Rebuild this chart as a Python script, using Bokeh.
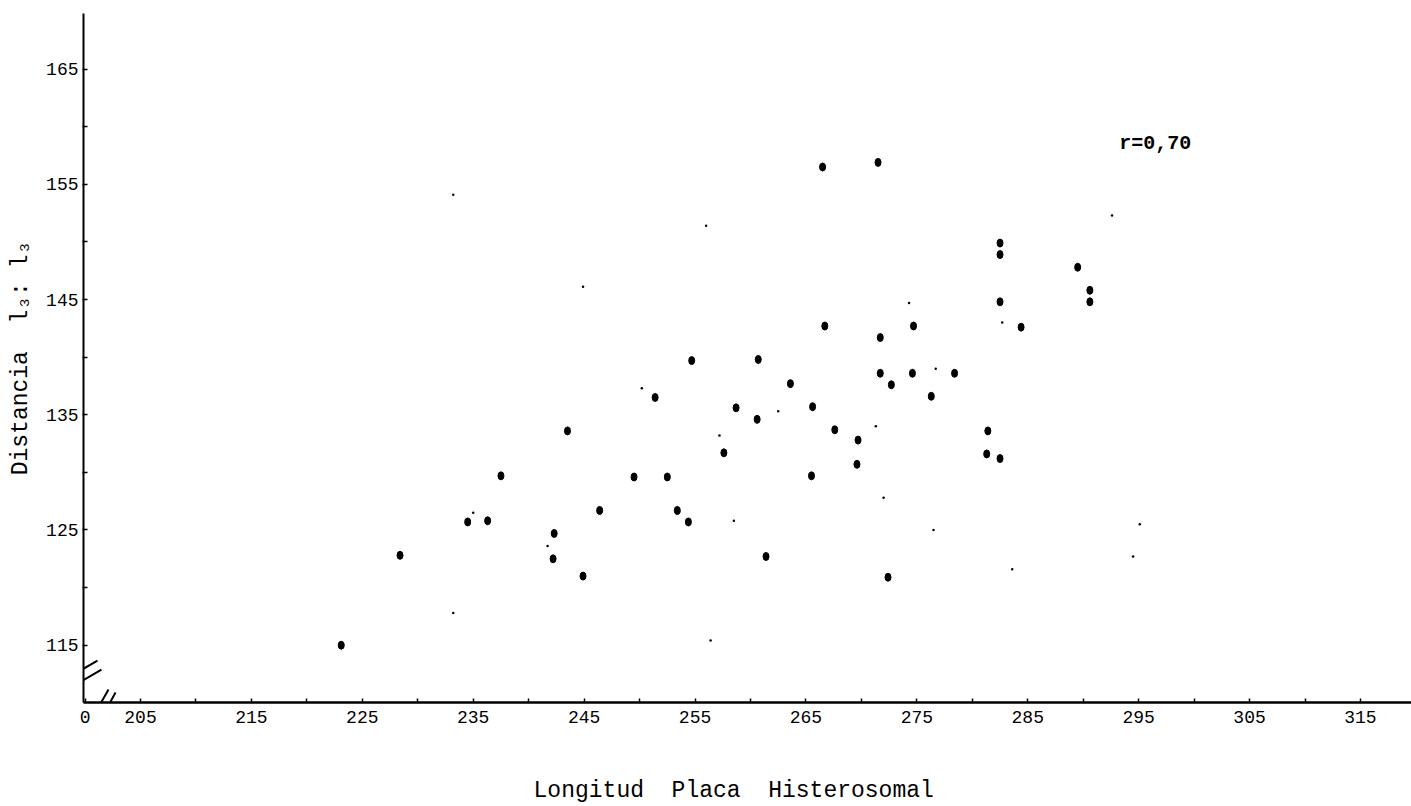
from bokeh.plotting import figure
from bokeh.models import FixedTicker, Label, ColumnDataSource
from bokeh.embed import file_html
from bokeh.resources import INLINE

# ---- data ----
longitud = [223.1, 228.4, 234.5, 236.3, 237.5, 242.3, 242.2, 243.5, 244.9, 246.4,
            249.5, 251.4, 252.5, 253.4, 254.4, 254.7, 257.6, 258.7, 260.6, 260.7,
            261.4, 263.6, 265.5, 265.6, 266.5, 266.7, 267.6, 269.6, 269.7, 271.5,
            271.7, 271.7, 272.4, 272.7, 274.6, 274.7, 276.3, 278.4, 281.4, 281.3,
            282.5, 282.5, 282.5, 282.5, 284.4, 289.5, 290.6, 290.6]
distancia = [115.0, 122.8, 125.7, 125.8, 129.7, 124.7, 122.5, 133.6, 121.0, 126.7,
             129.6, 136.5, 129.6, 126.7, 125.7, 139.7, 131.7, 135.6, 134.6, 139.8,
             122.7, 137.7, 129.7, 135.7, 156.5, 142.7, 133.7, 130.7, 132.8, 156.9,
             141.7, 138.6, 120.9, 137.6, 138.6, 142.7, 136.6, 138.6, 133.6, 131.6,
             131.2, 149.9, 148.9, 144.8, 142.6, 147.8, 145.8, 144.8]

# faint specks visible on the scanned page
speck_x = [241.7, 235.0, 258.5, 262.5, 257.2, 271.3, 282.7, 276.7, 274.3, 250.2,
           244.9, 233.2, 256.0, 233.2, 256.4, 276.5, 283.6, 295.1, 294.5, 272.0, 292.6]
speck_y = [123.6, 126.5, 125.8, 135.3, 133.2, 134.0, 143.0, 139.0, 144.7, 137.3,
           146.1, 154.1, 151.4, 117.8, 115.4, 125.0, 121.6, 125.5, 122.7, 127.8, 152.3]

x_major = [200, 205, 215, 225, 235, 245, 255, 265, 275, 285, 295, 305, 315]
x_minor = [210, 220, 230, 240, 250, 260, 270, 280, 290, 300, 310]
y_major = [115, 125, 135, 145, 155, 165]
y_minor = [120, 130, 140, 150, 160]

NB = "\u00a0"
x_title = "Longitud" + NB * 2 + "Placa" + NB * 2 + "Histerosomal" + NB * 2
y_title = "Distancia" + NB * 2 + "l\u2083:" + NB + "l\u2083"
r_text = "r=0,70"
r_pos = (296.5, 158.5)

X0, X1 = 199.86, 319.6
Y0, Y1 = 110.03, 169.82

FONT = "Liberation Mono"

p = figure(width=1411, height=806, x_range=(X0, X1), y_range=(Y0, Y1),
           output_backend="svg", toolbar_location=None,
           min_border_left=83, min_border_right=0, min_border_top=13,
           min_border_bottom=103)
p.grid.visible = False
p.outline_line_color = None
p.background_fill_color = "white"
p.border_fill_color = "white"

# x axis
xa = p.xaxis[0]
xa.ticker = FixedTicker(ticks=x_major, minor_ticks=x_minor)
xa.major_label_overrides = {200: "0"}
xa.axis_line_width = 2.5
xa.axis_line_color = "black"
xa.major_tick_in = 4
xa.major_tick_out = 0
xa.minor_tick_in = 4
xa.minor_tick_out = 0
xa.major_tick_line_width = 1.5
xa.minor_tick_line_width = 1.5
xa.major_label_text_font = FONT
xa.major_label_text_font_size = "18px"
xa.major_label_text_color = "black"
xa.major_label_standoff = 8
xa.axis_label = x_title
xa.axis_label_text_font = FONT
xa.axis_label_text_font_size = "23px"
xa.axis_label_text_font_style = "normal"
xa.axis_label_text_color = "black"
xa.axis_label_standoff = 52

# y axis
ya = p.yaxis[0]
ya.ticker = FixedTicker(ticks=y_major, minor_ticks=y_minor)
ya.axis_line_width = 2
ya.axis_line_color = "black"
ya.major_tick_in = 4
ya.major_tick_out = 1
ya.minor_tick_in = 4
ya.minor_tick_out = 1
ya.major_tick_line_width = 1.5
ya.minor_tick_line_width = 1.5
ya.major_label_text_font = FONT
ya.major_label_text_font_size = "18px"
ya.major_label_text_color = "black"
ya.major_label_standoff = 4
ya.axis_label = y_title
ya.axis_label_text_font = FONT
ya.axis_label_text_font_size = "23px"
ya.axis_label_text_font_style = "normal"
ya.axis_label_text_color = "black"
ya.axis_label_standoff = 9

# data points
src = ColumnDataSource(dict(x=longitud, y=distancia))
p.ellipse(x="x", y="y", width=6, height=8, width_units="screen",
          height_units="screen", fill_color="black", line_color="black", source=src)
p.scatter(x=speck_x, y=speck_y, size=2.5, marker="circle",
          fill_color="black", line_color=None)

# axis break marks (decorative), positioned relative to the axes
dx = (X1 - X0) / 1328.0
dy = (Y1 - Y0) / 690.0
def px(x_pix):
    return X0 + (x_pix - 83) * dx
def py(y_pix):
    return Y0 + (703 - y_pix) * dy
p.segment(x0=[px(73), px(79)], y0=[py(675), py(683)],
          x1=[px(97), px(101)], y1=[py(661), py(670)],
          line_color="black", line_width=2)
p.segment(x0=[px(95), px(102)], y0=[py(713), py(717)],
          x1=[px(108), px(115)], y1=[py(690), py(693)],
          line_color="black", line_width=2)

p.add_layout(Label(x=r_pos[0], y=r_pos[1], text=r_text, text_font=FONT,
                   text_font_size="20px", text_font_style="bold",
                   text_align="center", text_baseline="middle",
                   text_color="black"))

open("out.html", "w").write(file_html(p, INLINE))
